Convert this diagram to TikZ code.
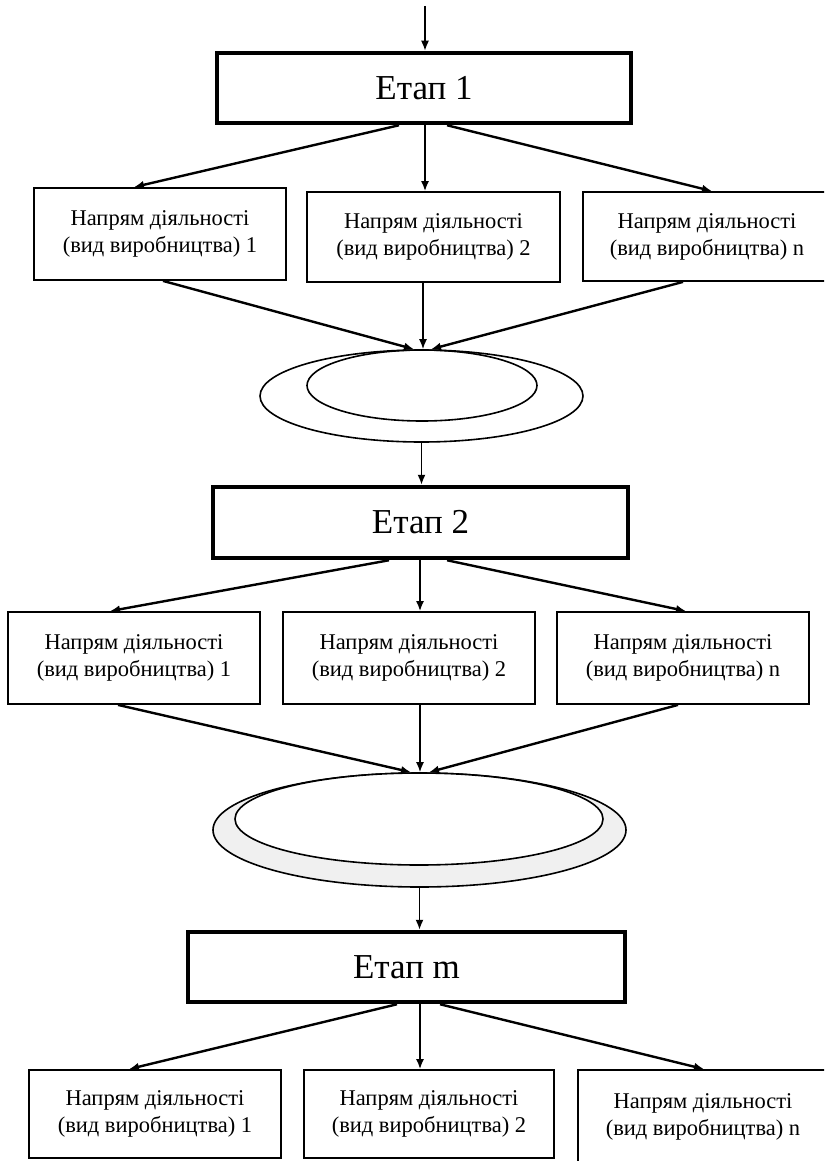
\documentclass[tikz,border=0pt]{standalone}
\usepackage{fontspec}
\setmainfont{Liberation Serif}
\usetikzlibrary{arrows.meta,shapes.geometric}
\begin{document}
\begin{tikzpicture}[x=1pt,y=-1pt,
  stagebox/.style={draw, line width=4.5pt, inner sep=0pt, font=\fontsize{35}{38}\selectfont},
  dirbox/.style={draw, line width=1.8pt, inner sep=0pt, align=center, font=\fontsize{22.5}{27}\selectfont},
  ring/.style={draw, ellipse, line width=1.6pt, inner sep=0pt},
  arr/.style={line width=2.4pt, -{Latex[length=10pt,width=8pt]}},
  arrthin/.style={line width=1.6pt, -{Latex[length=10pt,width=8pt]}},
]
\fill[white] (0,0) rectangle (824,1161);
\clip (0,0) rectangle (824,1161);

% Stage 1
\node[stagebox, minimum width=414pt, minimum height=70pt] (s1) at (424,88) {Етап 1};
\coordinate (top) at (425,6);
\draw[arrthin] (top) -- (top |- s1.north);

% Row 1
\node[dirbox, minimum width=252pt, minimum height=92pt] (b11) at (160,234) {Напрям діяльності\\(вид виробництва) 1};
\node[dirbox, minimum width=253pt, minimum height=90pt] (b12) at (433.5,237) {Напрям діяльності\\(вид виробництва) 2};
\node[dirbox, minimum width=248pt, minimum height=89pt] (b13) at (707,236.5) {Напрям діяльності\\(вид виробництва) n};

\draw[arr] (s1.south -| 399,0) -- (b11.north -| 134,0);
\draw[arrthin] (s1.south -| 425,0) -- (b12.north -| 425,0);
\draw[arr] (s1.south -| 447,0) -- (b13.north -| 712,0);

% Ellipse 1
\node[ring, minimum width=323pt, minimum height=92pt] (e1o) at (421.5,396) {};
\node[ring, minimum width=230pt, minimum height=71pt] (e1i) at (422,385.5) {};

\draw[arr] (b11.south -| 163,0) -- (e1o.north -| 414,0);
\draw[arrthin] (b12.south -| 423,0) -- (e1o.north -| 423,0);
\draw[arr] (b13.south -| 683,0) -- (e1o.north -| 431,0);

% Stage 2
\node[stagebox, minimum width=415pt, minimum height=71pt] (s2) at (420.5,522.5) {Етап 2};
\draw[arrthin] (e1o.south) -- (s2.north -| e1o.south);

% Row 2
\node[dirbox, minimum width=252pt, minimum height=92pt] (b21) at (134,658) {Напрям діяльності\\(вид виробництва) 1};
\node[dirbox, minimum width=252pt, minimum height=92pt] (b22) at (409,658) {Напрям діяльності\\(вид виробництва) 2};
\node[dirbox, minimum width=252pt, minimum height=92pt] (b23) at (683,658) {Напрям діяльності\\(вид виробництва) n};

\draw[arr] (s2.south -| 389,0) -- (b21.north -| 110,0);
\draw[arrthin] (s2.south -| 420,0) -- (b22.north -| 420,0);
\draw[arr] (s2.south -| 447,0) -- (b23.north -| 686,0);

% Ellipse 2
\node[ring, fill=gray!12, minimum width=413pt, minimum height=114pt] (e2o) at (419.5,830) {};
\node[ring, fill=white, minimum width=368pt, minimum height=92pt] (e2i) at (419,819) {};

\draw[arr] (b21.south -| 118,0) -- (e2o.north -| 411,0);
\draw[arrthin] (b22.south -| 420,0) -- (e2o.north -| 420,0);
\draw[arr] (b23.south -| 678,0) -- (e2o.north -| 429,0);

% Stage m
\node[stagebox, minimum width=437pt, minimum height=70pt] (sm) at (406.5,967) {Етап m};
\draw[arrthin] (e2o.south) -- (sm.north -| e2o.south);

% Row 3
\node[dirbox, minimum width=252pt, minimum height=88pt] (b31) at (155,1114) {Напрям діяльності\\(вид виробництва) 1};
\node[dirbox, minimum width=250pt, minimum height=88pt] (b32) at (429,1114) {Напрям діяльності\\(вид виробництва) 2};
\node[dirbox, minimum width=250pt, minimum height=94pt] (b33) at (703,1117) {Напрям діяльності\\(вид виробництва) n};

\draw[arr] (sm.south -| 397,0) -- (b31.north -| 129,0);
\draw[arrthin] (sm.south -| 420,0) -- (b32.north -| 420,0);
\draw[arr] (sm.south -| 440,0) -- (b33.north -| 704,0);
\end{tikzpicture}
\end{document}
